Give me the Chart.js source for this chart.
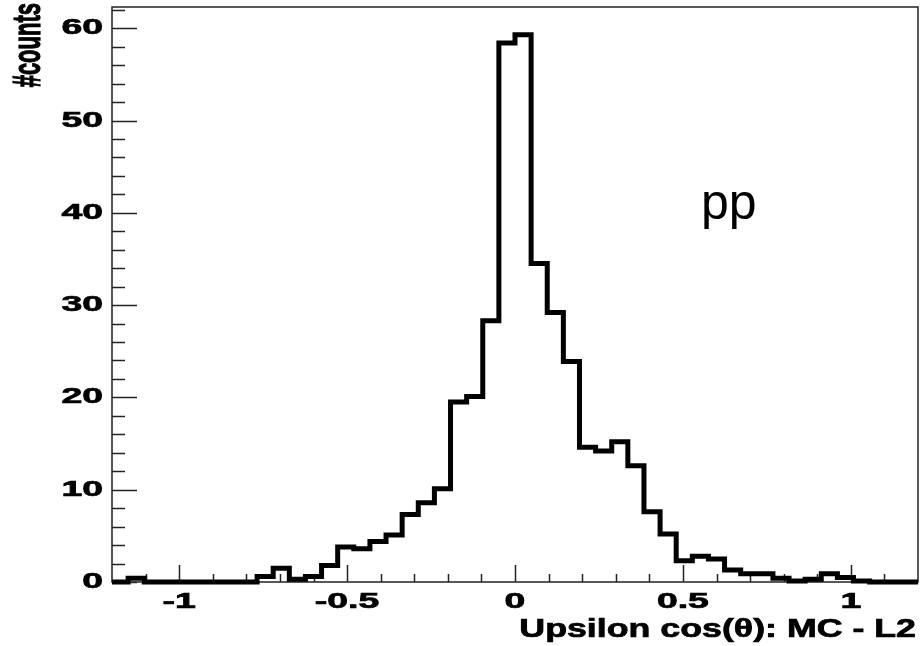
<!DOCTYPE html>
<html>
<head>
<meta charset="utf-8">
<script src="https://cdn.jsdelivr.net/npm/chart.js@4.4.1/dist/chart.umd.min.js"></script>
<style>
  html, body { margin: 0; padding: 0; background: #fff; }
  #wrap { width: 921px; height: 646px; }
</style>
</head>
<body>
<div id="wrap"><canvas id="hist" width="921" height="646"></canvas></div>
<script>
// histogram range + bin contents (50 bins)
const xLow = -1.2;
const xHigh = 1.2;
const counts = [
  0, 0.4, 0, 0, 0, 0, 0, 0, 0, 0.6,
  1.5, 0.3, 0.6, 1.8, 3.8, 3.6, 4.4, 5.1, 7.3, 8.6,
  10.1, 19.5, 20.1, 28.3, 58.4, 59.3, 34.5, 29.2, 23.9, 14.6,
  14.2, 15.2, 12.6, 7.6, 5.2, 2.3, 2.8, 2.5, 1.3, 0.9,
  0.9, 0.4, 0.1, 0.3, 0.9, 0.5, 0.1, 0, 0, 0
];
const xTicks = [-1, -0.5, 0, 0.5, 1];
const yTicks = [0, 10, 20, 30, 40, 50, 60];
const xTitle = "Upsilon cos(\u03b8): MC - L2";
const yTitle = "#counts";
const label = "pp";

const binWidth = (xHigh - xLow) / counts.length;
// one point per bin edge; 'before' stepping keeps each count on its own bin
const points = counts.map((c, i) => ({ x: xLow + i * binWidth, y: c }));
points.push({ x: xHigh, y: counts[counts.length - 1] });

const FONT = "'Liberation Sans', Arial, Helvetica, sans-serif";

// ROOT-ish look: text is drawn wide and heavy, ticks point inwards
function wideText(ctx, text, x, y, sx, align, rotate) {
  ctx.save();
  ctx.translate(x, y);
  ctx.scale(sx, 1);
  if (rotate) ctx.rotate(-Math.PI / 2);
  ctx.textAlign = align;
  ctx.fillText(text, 0, 0);
  ctx.lineWidth = 0.7;
  ctx.strokeText(text, 0, 0);
  ctx.restore();
}

const rootStyle = {
  id: "rootStyle",
  beforeDatasetsDraw(chart) {
    const { ctx, chartArea: a, scales: { x, y } } = chart;
    ctx.save();
    ctx.strokeStyle = "#222";
    ctx.lineWidth = 1.5;
    ctx.strokeRect(a.left, a.top, a.right - a.left, a.bottom - a.top);

    ctx.beginPath();
    // y ticks every 2, big ones every 10
    for (let v = 0; v <= y.max; v += 2) {
      const py = Math.round(y.getPixelForValue(v)) + 0.5;
      const len = v % 10 === 0 ? 25 : 13;
      ctx.moveTo(a.left, py);
      ctx.lineTo(a.left + len, py);
    }
    // x ticks every 0.1, big ones every 0.5
    for (let k = -11; k <= 11; k++) {
      const px = Math.round(x.getPixelForValue(k / 10)) + 0.5;
      const len = k % 5 === 0 ? 17 : 8;
      ctx.moveTo(px, a.bottom);
      ctx.lineTo(px, a.bottom - len);
    }
    ctx.stroke();
    ctx.restore();
  },
  afterDraw(chart) {
    const { ctx, chartArea: a, scales: { x, y } } = chart;
    ctx.save();
    ctx.fillStyle = "#000";
    ctx.strokeStyle = "#000";

    ctx.font = "bold 22px " + FONT;
    ctx.textBaseline = "middle";
    yTicks.forEach(v => wideText(ctx, String(v), a.left - 9, y.getPixelForValue(v), 1.7, "right"));

    ctx.font = "bold 22px " + FONT;
    ctx.textBaseline = "alphabetic";
    xTicks.forEach(v => wideText(ctx, String(v), x.getPixelForValue(v), 608, 1.7, "center"));

    ctx.font = "bold 25px " + FONT;
    wideText(ctx, xTitle, 916, 637, 1.43, "right");

    ctx.font = "bold 22px " + FONT;
    wideText(ctx, yTitle, 40, 3, 1.75, "right", true);

    ctx.font = "50px " + FONT;
    ctx.textAlign = "left";
    ctx.fillText(label, 701, 219);
    ctx.restore();
  }
};

new Chart(document.getElementById("hist"), {
  type: "line",
  data: {
    datasets: [{
      data: points,
      stepped: "before",
      borderColor: "#000",
      borderWidth: 5,
      pointRadius: 0,
      fill: false,
      clip: 6
    }]
  },
  options: {
    responsive: false,
    animation: false,
    devicePixelRatio: 1,
    layout: { padding: { left: 0, right: 3, top: 7, bottom: 0 } },
    plugins: { legend: { display: false }, tooltip: { enabled: false } },
    scales: {
      x: {
        type: "linear",
        min: xLow,
        max: xHigh,
        grid: { display: false },
        border: { display: false },
        ticks: { display: false },
        afterFit(scale) { scale.height = 64; }
      },
      y: {
        min: 0,
        max: 62.3,
        grid: { display: false },
        border: { display: false },
        ticks: { display: false },
        afterFit(scale) { scale.width = 112; }
      }
    }
  },
  plugins: [rootStyle]
});
</script>
</body>
</html>
